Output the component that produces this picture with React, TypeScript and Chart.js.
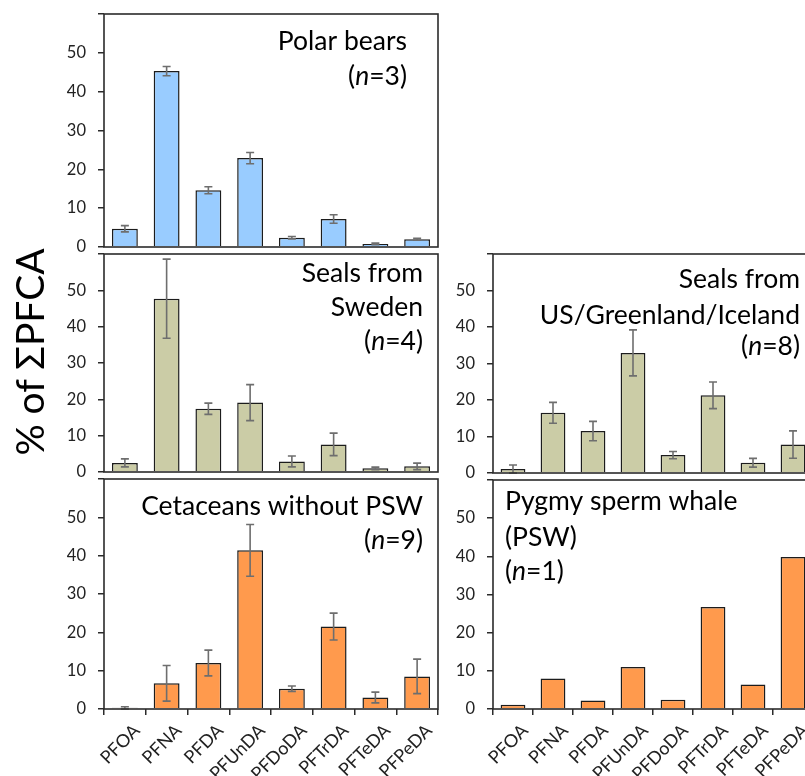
import React, { useEffect, useRef } from 'react';
import { Chart, registerables } from 'chart.js';

Chart.register(...registerables);

const categories = ['PFOA', 'PFNA', 'PFDA', 'PFUnDA', 'PFDoDA', 'PFTrDA', 'PFTeDA', 'PFPeDA'];
const yMin = 0;
const yMax = 60;
const yStep = 10;
const hiddenTickValues = [60];

const polarBearsMean = [4.7, 45.3, 14.6, 22.9, 2.4, 7.2, 0.8, 2.0];
const polarBearsErr = [0.8, 1.2, 0.9, 1.45, 0.3, 1.1, 0.2, 0.25];
const sealsSwedenMean = [2.5, 47.7, 17.4, 19.1, 2.9, 7.6, 1.0, 1.55];
const sealsSwedenErr = [1.1, 10.9, 1.55, 4.95, 1.5, 3.1, 0.35, 0.9];
const cetaceansMean = [0.3, 6.7, 12.0, 41.4, 5.3, 21.5, 3.0, 8.5];
const cetaceansErr = [0.3, 4.65, 3.35, 6.75, 0.7, 3.5, 1.4, 4.5];
const sealsUSMean = [1.1, 16.5, 11.5, 32.9, 4.9, 21.3, 2.8, 7.8];
const sealsUSErr = [1.1, 2.85, 2.65, 6.3, 1.0, 3.65, 1.2, 3.75];
const pygmyMean = [1.1, 8.0, 2.2, 11.0, 2.4, 26.7, 6.4, 39.8];

const yTitle = '% of ΣPFCA';

type Seg = { t: string; i?: boolean };
type PanelDef = {
  left: number; top: number; width: number; height: number;
  color: string; values: number[]; errors: number[] | null;
  showX: boolean;
  lines: Seg[][]; align: 'left' | 'right'; textX: number; baselines: number[];
};

const FONT = 'Lato, "Open Sans", sans-serif';
const YW = 60;
const PT = 26;
const PR = 4;

const panels: PanelDef[] = [
  {
    left: 104, top: 14, width: 334, height: 233, color: '#99CCFF',
    values: polarBearsMean, errors: polarBearsErr, showX: false,
    lines: [[{ t: 'Polar bears' }], [{ t: '(' }, { t: 'n', i: true }, { t: '=3)' }]],
    align: 'right', textX: -31, baselines: [36, 70.5],
  },
  {
    left: 104, top: 254, width: 334, height: 218, color: '#CBCCA6',
    values: sealsSwedenMean, errors: sealsSwedenErr, showX: false,
    lines: [[{ t: 'Seals from' }], [{ t: 'Sweden' }], [{ t: '(' }, { t: 'n', i: true }, { t: '=4)' }]],
    align: 'right', textX: -15, baselines: [27.7, 61.7, 95.5],
  },
  {
    left: 104, top: 479, width: 334, height: 230, color: '#FF9A4D',
    values: cetaceansMean, errors: cetaceansErr, showX: true,
    lines: [[{ t: 'Cetaceans without PSW' }], [{ t: '(' }, { t: 'n', i: true }, { t: '=9)' }]],
    align: 'right', textX: -15, baselines: [36, 70],
  },
  {
    left: 493, top: 254, width: 320, height: 219, color: '#CBCCA6',
    values: sealsUSMean, errors: sealsUSErr, showX: false,
    lines: [[{ t: 'Seals from' }], [{ t: 'US/Greenland/Iceland' }], [{ t: '(' }, { t: 'n', i: true }, { t: '=8)' }]],
    align: 'right', textX: -13, baselines: [34.3, 70, 101],
  },
  {
    left: 493, top: 480, width: 320, height: 229, color: '#FF9A4D',
    values: pygmyMean, errors: null, showX: true,
    lines: [[{ t: 'Pygmy sperm whale' }], [{ t: '(PSW)' }], [{ t: '(' }, { t: 'n', i: true }, { t: '=1)' }]],
    align: 'left', textX: 12, baselines: [30, 66, 100],
  },
];

const ANNOT_SIZE = 26.5;

function Panel({ p }: { p: PanelDef }) {
  const ref = useRef<HTMLCanvasElement | null>(null);
  const XH = p.showX ? 72 : 26;
  const cw = p.width + YW + PR;
  const ch = p.height + PT + XH;

  useEffect(() => {
    if (!ref.current) return;
    const errorBars = {
      id: 'errorBars',
      afterDatasetsDraw(chart: any) {
        if (!p.errors) return;
        const meta = chart.getDatasetMeta(0);
        const ys = chart.scales.y;
        const ctx = chart.ctx;
        ctx.save();
        ctx.strokeStyle = '#6E6E6E';
        ctx.lineWidth = 1.6;
        p.values.forEach((v, i) => {
          const e = p.errors![i];
          const x = meta.data[i].x;
          const y1 = ys.getPixelForValue(v + e);
          const y2 = ys.getPixelForValue(Math.max(v - e, 0));
          ctx.beginPath();
          ctx.moveTo(x, y1); ctx.lineTo(x, y2);
          ctx.moveTo(x - 4, y1); ctx.lineTo(x + 4, y1);
          ctx.moveTo(x - 4, y2); ctx.lineTo(x + 4, y2);
          ctx.stroke();
        });
        ctx.restore();
      },
    };
    const frame = {
      id: 'frame',
      afterDraw(chart: any) {
        const { left, right, top, bottom } = chart.chartArea;
        const ctx = chart.ctx;
        ctx.save();
        ctx.strokeStyle = '#2b2b2b';
        ctx.lineWidth = 1.6;
        ctx.strokeRect(left, top, right - left, bottom - top);
        ctx.fillStyle = '#000';
        ctx.textBaseline = 'alphabetic';
        p.lines.forEach((segs, li) => {
          const fonts = segs.map((s) => `${s.i ? 'italic ' : ''}${ANNOT_SIZE}px ${FONT}`);
          const widths = segs.map((s, k) => { ctx.font = fonts[k]; return ctx.measureText(s.t).width; });
          const total = widths.reduce((a, b) => a + b, 0);
          let x = p.align === 'right' ? right + p.textX - total : left + p.textX;
          const y = top + p.baselines[li];
          segs.forEach((s, k) => {
            ctx.font = fonts[k];
            ctx.textAlign = 'left';
            ctx.fillText(s.t, x, y);
            x += widths[k];
          });
        });
        ctx.restore();
      },
    };
    const chart = new Chart(ref.current, {
      type: 'bar',
      data: {
        labels: categories,
        datasets: [{
          data: p.values,
          backgroundColor: p.color,
          borderColor: '#1c1c1c',
          borderWidth: 1.5,
          barPercentage: 0.62,
          categoryPercentage: 1.0,
        }],
      },
      options: {
        animation: false,
        responsive: false,
        devicePixelRatio: 1,
        layout: { padding: { top: PT, right: PR, left: 0, bottom: 0 } },
        plugins: { legend: { display: false }, tooltip: { enabled: false } },
        scales: {
          x: {
            type: 'category',
            offset: true,
            grid: {
              display: p.showX, drawOnChartArea: false, drawTicks: true,
              tickLength: 6, color: '#2b2b2b', lineWidth: 1.5, offset: true,
            },
            border: { display: false },
            ticks: {
              display: p.showX, autoSkip: false, maxRotation: 45, minRotation: 45,
              font: { family: FONT, size: 18 }, color: '#222', padding: 5, labelOffset: 12,
            },
            afterFit: (s: any) => { s.height = XH; },
          },
          y: {
            min: yMin, max: yMax,
            ticks: {
              stepSize: yStep,
              callback: (v: any) => (hiddenTickValues.includes(Number(v)) ? '' : String(v)),
              font: { family: FONT, size: 16.5 }, color: '#222', padding: 12,
            },
            grid: {
              drawOnChartArea: false, drawTicks: true, tickLength: 6,
              color: '#2b2b2b', lineWidth: 1.5,
            },
            border: { display: false },
            afterFit: (s: any) => { s.width = YW; },
          },
        },
      } as any,
      plugins: [errorBars, frame],
    });
    return () => chart.destroy();
  }, []);

  return (
    <canvas
      ref={ref}
      width={cw}
      height={ch}
      style={{ position: 'absolute', left: p.left - YW, top: p.top - PT, width: cw, height: ch }}
    />
  );
}

export default function App() {
  return (
    <div style={{ position: 'fixed', left: 0, top: 0, width: 805, height: 776, overflow: 'hidden', background: '#fff' }}>
      {panels.map((p, i) => <Panel key={i} p={p} />)}
      <div
        style={{
          position: 'absolute', left: 29 - 150, top: 352 - 25, width: 300, height: 50,
          lineHeight: '50px', textAlign: 'center', transform: 'rotate(-90deg)',
          fontFamily: FONT, fontSize: 39, color: '#000', whiteSpace: 'nowrap',
        }}
      >
        {yTitle}
      </div>
    </div>
  );
}
